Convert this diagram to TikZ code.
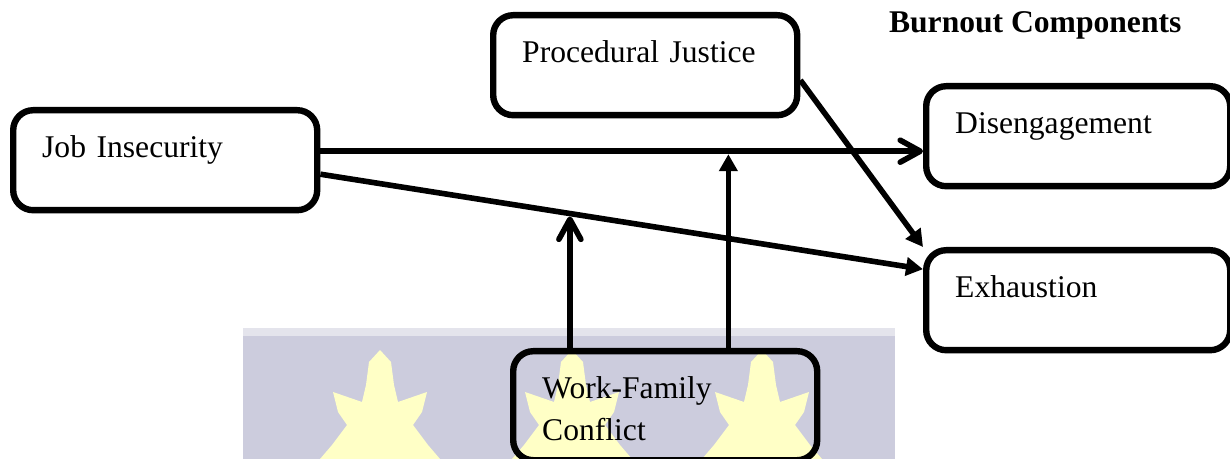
\documentclass[tikz,border=0pt]{standalone}
\usepackage{fontspec}
\setmainfont{Liberation Serif}
\usetikzlibrary{arrows.meta}
\usetikzlibrary{calc}

\definecolor{bandgray}{RGB}{204,204,221}
\definecolor{bandlight}{RGB}{228,228,236}
\definecolor{flameyellow}{RGB}{255,255,198}

\begin{document}
\begin{tikzpicture}[x=0.5pt, y=-0.5pt,
  box/.style={draw, line width=3.2pt, rounded corners=10pt, anchor=north west,
    text width=123pt, inner xsep=14.5pt, inner ysep=0pt,
    text height=23.5pt, text depth=26.5pt, align=left,
    font=\fontsize{15.8}{21}\selectfont},
  link/.style={line width=2.8pt},
  solidtip/.style={link, -{Triangle[width=9pt,length=8.5pt]}},
  opentip/.style={link, -{Straight Barb[length=10pt,width=11pt,round]}},
]

\fill[white] (0,0) rectangle (1230,459);
\useasboundingbox (0,0) rectangle (1230,459);

%Draw watermark band
\fill[bandgray] (243,328) rectangle (895,459);
\fill[bandlight] (243,328) rectangle (895,336);

\foreach \cx in {380,572,762} {
\fill[flameyellow] (\cx,350) -- (\cx+11,362) -- (\cx+14,385) -- (\cx+18,402)
  -- (\cx+47,392) -- (\cx+42,412) -- (\cx+33,425) -- (\cx+48,445) -- (\cx+60,459)
  -- (\cx-60,459) -- (\cx-48,445) -- (\cx-33,425) -- (\cx-42,412) -- (\cx-47,392)
  -- (\cx-18,402) -- (\cx-14,385) -- (\cx-11,362) -- cycle;
}

%Draw boxes
\node[box] (pj) at (490,12) {Procedural Justice};
\node[box] (ji) at (10,107) {Job Insecurity};
\node[box] (dis) at (923,83) {Disengagement};
\node[box] (exh) at (923,247) {Exhaustion};
\node[box, text depth=31pt] (wfc) at (510,348) {Work-Family\\Conflict};

\node[anchor=base west, font=\fontsize{15.8}{21}\selectfont\bfseries] (title) at (882,33) {Burnout Components};

%Draw arrows
\coordinate (jitop) at ($(ji.east)+(0,-9)$);
\coordinate (jibot) at ($(ji.east)+(0,14)$);
\coordinate (exhin) at ($(exh.west)+(0,-31)$);
\coordinate (pjout) at ($(pj.east)+(0,15)$);

\draw[opentip] (jitop) -- (jitop -| dis.west);
\draw[solidtip] (jibot) -- (exhin);
\draw[solidtip] (pjout) -- (exh.north west);

\path (jitop) -- (jitop -| dis.west) coordinate[pos=0.677] (m1);
\path (jibot) -- (exhin) coordinate[pos=0.414] (m2);

\draw[solidtip] (m1 |- wfc.north) -- ($(m1)+(0,3)$);
\draw[opentip] (m2 |- wfc.north) -- ($(m2)+(0,3)$);

\end{tikzpicture}
\end{document}
